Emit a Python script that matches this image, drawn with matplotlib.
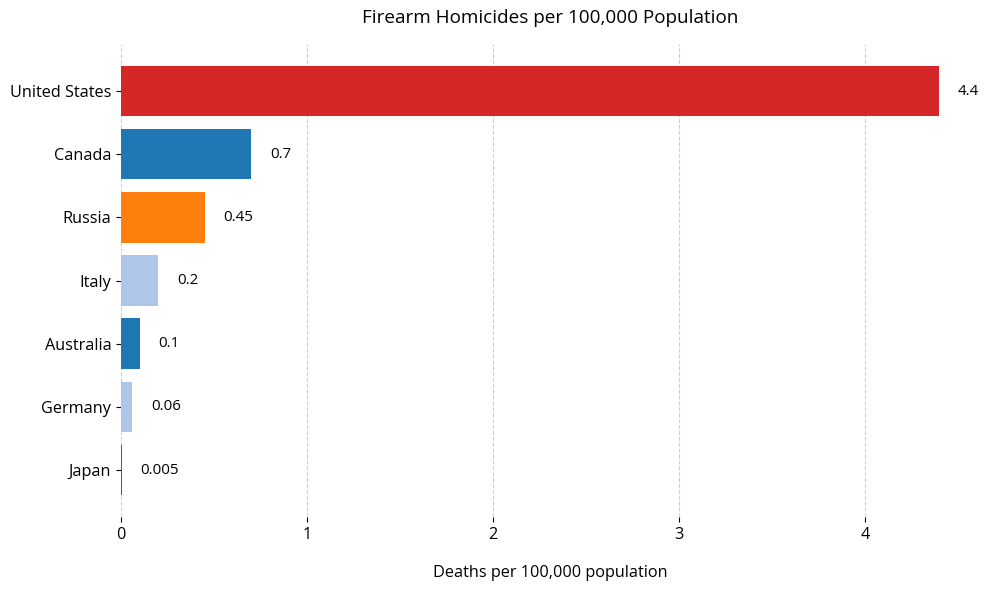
import matplotlib.pyplot as plt

plt.rcParams['font.family'] = ['Open Sans', 'DejaVu Sans']

countries = ["United States", "Canada", "Russia", "Italy", "Australia", "Germany", "Japan"]
rates = [4.4, 0.7, 0.45, 0.2, 0.1, 0.06, 0.005]
labels = ["4.4", "0.7", "0.45", "0.2", "0.1", "0.06", "0.005"]
colors = ["#d62728", "#1f77b4", "#ff7f0e", "#aec7e8", "#1f77b4", "#aec7e8", "#1c6f85"]

fig, ax = plt.subplots(figsize=(9.88, 5.9), dpi=100)
ypos = list(range(len(countries)))
ax.barh(ypos, rates, color=colors, height=0.8, zorder=3)
ax.set_yticks(ypos)
ax.set_yticklabels(countries, fontsize=11.7)
ax.invert_yaxis()

for y, v, s in zip(ypos, rates, labels):
    ax.text(v + 0.1, y, s, va='center', ha='left', fontsize=10.8)

ax.set_xlim(0, 4.62)
ax.set_xticks([0, 1, 2, 3, 4])
ax.tick_params(axis='x', labelsize=11.7)
ax.set_xlabel('Deaths per 100,000 population', fontsize=11.7, labelpad=16)
ax.set_title('Firearm Homicides per 100,000 Population', fontsize=13.6, pad=15)
ax.grid(axis='x', linestyle='--', alpha=0.6, zorder=0)
for sp in ax.spines.values():
    sp.set_visible(False)

fig.subplots_adjust(left=0.1225, right=0.992, top=0.925, bottom=0.124)
fig.savefig('out.png', dpi=100)
